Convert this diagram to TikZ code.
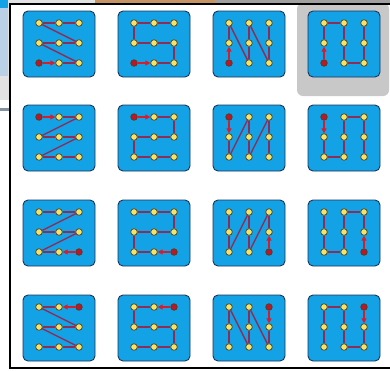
\documentclass[tikz,border=0pt]{standalone}
\usetikzlibrary{arrows.meta}
\pgfdeclarelayer{bg}\pgfdeclarelayer{tiles}\pgfdeclarelayer{lines}
\pgfsetlayers{bg,tiles,lines,main}
\definecolor{tileblue}{RGB}{20,162,230}
\definecolor{tileedge}{RGB}{28,52,88}
\definecolor{dotyellow}{RGB}{246,226,102}
\definecolor{dotedge}{RGB}{80,62,30}
\definecolor{dotred}{RGB}{188,22,40}
\definecolor{routecol}{RGB}{140,46,88}
\definecolor{arrowred}{RGB}{212,30,48}
\definecolor{hlgray}{RGB}{200,200,200}
\definecolor{tan}{RGB}{198,148,100}
\definecolor{topgray}{RGB}{160,160,160}
\definecolor{sidegray}{RGB}{226,226,226}
\definecolor{sideblue}{RGB}{186,208,230}
\tikzset{
  tilebox/.style={draw=tileedge, line width=0.9pt, fill=tileblue, rounded corners=5pt,
    minimum width=72pt, minimum height=66pt, inner sep=0pt},
  gdot/.style={circle, draw=dotedge, line width=0.7pt, fill=\dotfill, minimum size=6.6pt, inner sep=0pt},
  route/.style={draw=routecol, line width=1.35pt},
  startarrow/.style={draw=arrowred, line width=1.4pt, -{Triangle[length=5pt,width=5pt]}},
  frame/.style={draw=black, line width=2pt},
}
\newcommand\gridtile[5]{%
  \begin{pgfonlayer}{tiles}\node[tilebox] (#1) at (#2+36,#3+33) {};\end{pgfonlayer}
  \foreach \c in {0,1,2}{\foreach \r in {0,1,2}{%
    \def\dotfill{dotyellow}%
    \ifnum\c=#4\relax\ifnum\r=#5\relax\def\dotfill{dotred}\fi\fi
    \node[gdot] (#1-\c\r) at (#2+16+20*\c,#3+12+20*\r) {};
  }}%
}
\newcommand\trail[3]{%
  \begin{pgfonlayer}{lines}
  \foreach \p [remember=\p as \prev (initially #2), count=\k] in {#3}{%
    \ifnum\k=1 \draw[startarrow] (#1-\prev) -- (#1-\p);
    \else \draw[route] (#1-\prev) -- (#1-\p);\fi
  }%
  \end{pgfonlayer}
}
\begin{document}
\begin{tikzpicture}[x=1pt,y=-1pt]
\useasboundingbox (0,0) rectangle (390,370);
\begin{pgfonlayer}{bg}
  \fill[white] (0,0) rectangle (390,370);
  \fill[sidegray] (0,0) rectangle (9,100);
  \fill[sidegray] (0,0) rectangle (95,4);
  \fill[tan] (95,0) rectangle (215,4);
  \fill[topgray] (215,0) rectangle (390,4);
  \fill[sideblue] (0,8) rectangle (8,76);
  \fill[tileblue] (0,0) rectangle (8,8);
  \fill[sideblue!70!black] (0,108) rectangle (9,111);
  \fill[hlgray, rounded corners=6pt] (297,3) rectangle (389,96);
  \draw[frame] (10,4) -- (390,4);
  \draw[frame] (10,3) -- (10,369);
  \draw[black, line width=1.6pt] (9,368) -- (390,368);
\end{pgfonlayer}
% row 1
\gridtile{t11}{23}{11}{0}{2}
\gridtile{t12}{118}{11}{0}{2}
\gridtile{t13}{213}{11}{0}{2}
\gridtile{t14}{308}{11}{0}{2}
% row 2
\gridtile{t21}{23}{105}{0}{0}
\gridtile{t22}{118}{105}{0}{0}
\gridtile{t23}{213}{105}{0}{0}
\gridtile{t24}{308}{105}{0}{0}
% row 3
\gridtile{t31}{23}{200}{2}{2}
\gridtile{t32}{118}{200}{2}{2}
\gridtile{t33}{213}{200}{2}{2}
\gridtile{t34}{308}{200}{2}{2}
% row 4
\gridtile{t41}{23}{295}{2}{0}
\gridtile{t42}{118}{295}{2}{0}
\gridtile{t43}{213}{295}{2}{0}
\gridtile{t44}{308}{295}{2}{0}
% paths
\trail{t11}{02}{12,22,01,11,21,00,10,20}
\trail{t12}{02}{12,22,21,11,01,00,10,20}
\trail{t13}{02}{01,00,12,11,10,22,21,20}
\trail{t14}{02}{01,00,10,11,12,22,21,20}
\trail{t21}{00}{10,20,01,11,21,02,12,22}
\trail{t22}{00}{10,20,21,11,01,02,12,22}
\trail{t23}{00}{01,02,10,11,12,20,21,22}
\trail{t24}{00}{01,02,12,11,10,20,21,22}
\trail{t31}{22}{12,02,21,11,01,20,10,00}
\trail{t32}{22}{12,02,01,11,21,20,10,00}
\trail{t33}{22}{21,20,12,11,10,02,01,00}
\trail{t34}{22}{21,20,10,11,12,02,01,00}
\trail{t41}{20}{10,00,21,11,01,22,12,02}
\trail{t42}{20}{10,00,01,11,21,22,12,02}
\trail{t43}{20}{21,22,10,11,12,00,01,02}
\trail{t44}{20}{21,22,12,11,10,00,01,02}
\end{tikzpicture}
\end{document}
